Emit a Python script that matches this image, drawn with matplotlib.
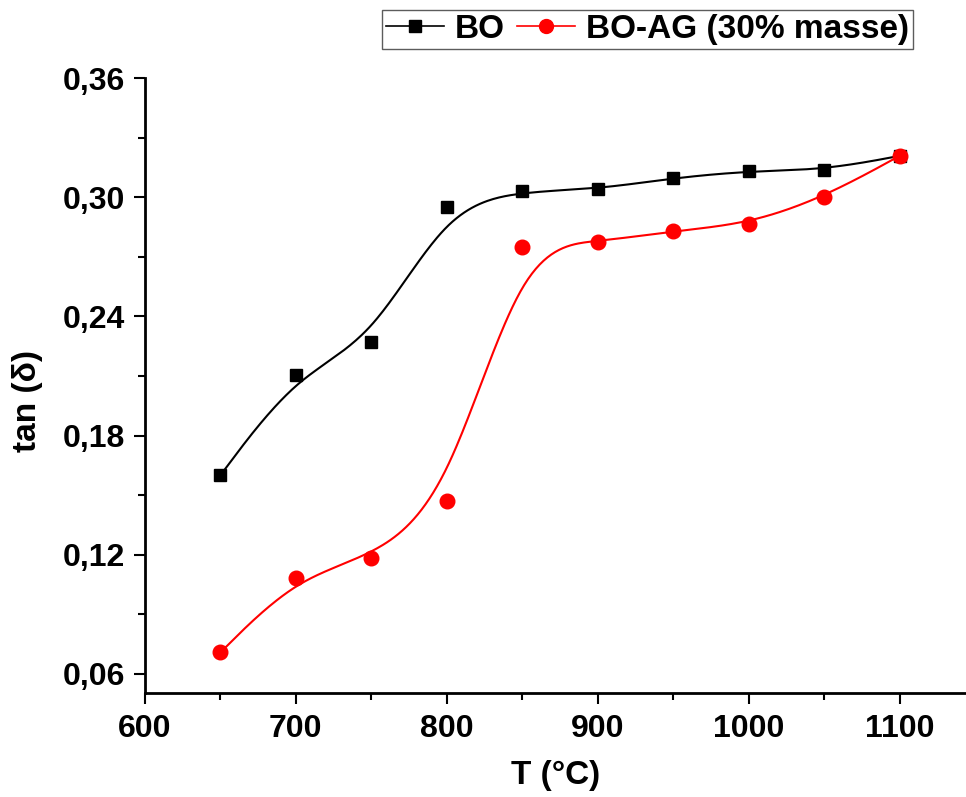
import numpy as np
import matplotlib
matplotlib.use('Agg')
import matplotlib.pyplot as plt
from matplotlib.ticker import FuncFormatter, MultipleLocator

# Data
temps = [650, 700, 750, 800, 850, 900, 950, 1000, 1050, 1100]
tan_bo = [0.160, 0.2106, 0.227, 0.295, 0.303, 0.304, 0.3097, 0.3132, 0.3137, 0.3208]
tan_boag = [0.0708, 0.1085, 0.1186, 0.1473, 0.275, 0.2775, 0.283, 0.2866, 0.300, 0.3208]


def bspline(x, y, n=40):
    # uniform cubic B-spline, endpoints repeated so the curve is clamped
    px = np.r_[[x[0]] * 2, x, [x[-1]] * 2].astype(float)
    py = np.r_[[y[0]] * 2, y, [y[-1]] * 2].astype(float)
    M = np.array([[-1, 3, -3, 1], [3, -6, 3, 0], [-3, 0, 3, 0], [1, 4, 1, 0]]) / 6.0
    t = np.linspace(0, 1, n)
    T = np.vstack([t**3, t**2, t, np.ones_like(t)]).T
    xs, ys = [], []
    for i in range(len(px) - 3):
        xs.append(T @ M @ px[i:i + 4])
        ys.append(T @ M @ py[i:i + 4])
    return np.concatenate(xs), np.concatenate(ys)


plt.rcParams['font.family'] = ['Liberation Sans', 'DejaVu Sans']
plt.rcParams['font.weight'] = 'bold'

fig = plt.figure(figsize=(9.66, 7.97), dpi=100)
ax = fig.add_axes([0.150, 0.1305, 0.850, 0.7716])

series = [(tan_bo, 'black', 's', 9, 'BO'), (tan_boag, 'red', 'o', 10.5, 'BO-AG (30% masse)')]
for ys, col, mk, ms, lab in series:
    sx, sy = bspline(temps, ys)
    ax.plot(sx, sy, color=col, lw=1.5)
    ax.plot(temps, ys, ls='none', marker=mk, color=col, ms=ms)
    ax.plot([], [], color=col, lw=1.2, marker=mk, ms=ms - 0.5, label=lab)

ax.set_xlim(600, 1144)
ax.set_ylim(0.0504, 0.36)
ax.xaxis.set_major_locator(MultipleLocator(100))
ax.xaxis.set_minor_locator(MultipleLocator(50))
ax.yaxis.set_major_locator(MultipleLocator(0.06))
ax.yaxis.set_minor_locator(MultipleLocator(0.03))
ax.yaxis.set_major_formatter(FuncFormatter(lambda v, p: ('%.2f' % v).replace('.', ',')))

for s in ['top', 'right']:
    ax.spines[s].set_visible(False)
for s in ['left', 'bottom']:
    ax.spines[s].set_linewidth(2)
ax.tick_params(which='major', direction='out', length=8, width=1.5, labelsize=23)
ax.tick_params(axis='x', which='major', pad=7)
ax.tick_params(axis='y', which='major', pad=6)
ax.tick_params(which='minor', direction='out', length=5, width=1.5)

ax.set_xlabel('T (°C)', fontsize=24, fontweight='bold', labelpad=12)
ax.set_ylabel('tan (δ)', fontsize=24, fontweight='bold')
ax.yaxis.set_label_coords(-0.124, 0.475)

leg = fig.legend(loc='upper right', bbox_to_anchor=(913 / 966, 1 - 10 / 797), ncol=2, fontsize=24,
                 frameon=True, fancybox=False, edgecolor='#333333', handlelength=1.75,
                 columnspacing=0.35, handletextpad=0.33, borderpad=0.12, borderaxespad=0)
leg.get_frame().set_linewidth(1.0)

fig.savefig('out.png', dpi=100)
